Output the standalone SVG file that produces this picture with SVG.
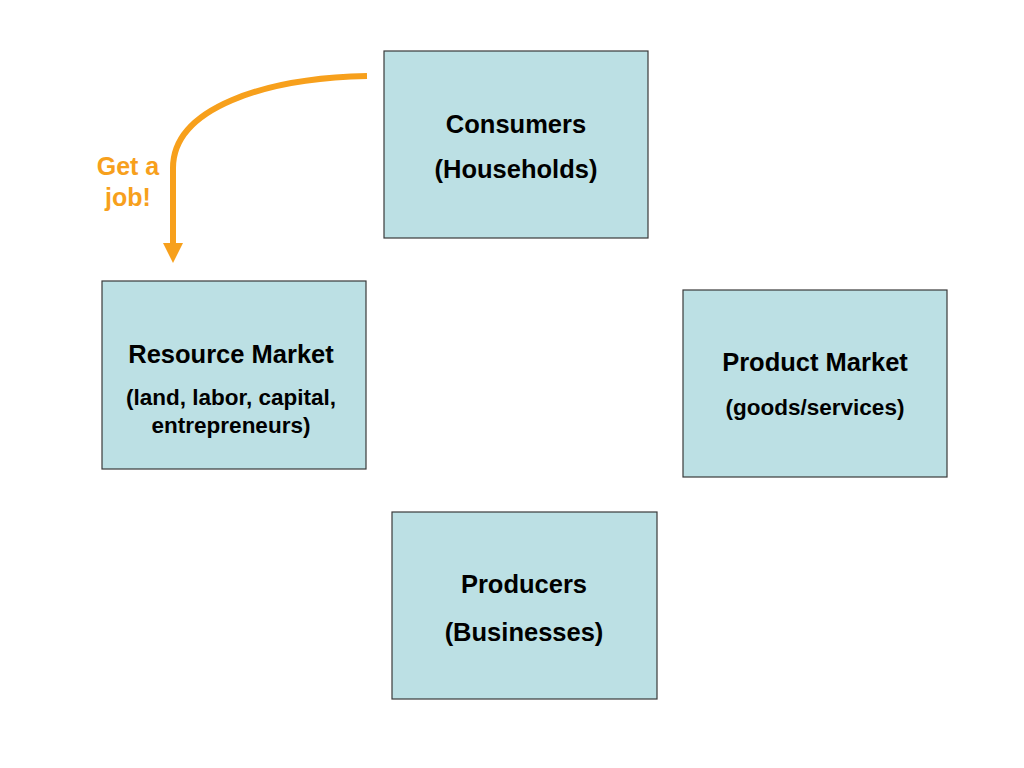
<svg xmlns="http://www.w3.org/2000/svg" width="1024" height="768" viewBox="0 0 1024 768">
<defs>
<style>
.box{fill:#BCE0E4;stroke:#3a3a3a;stroke-width:1.2}
.t{font-family:"Liberation Sans",Arial,sans-serif;font-weight:bold;fill:#000;text-anchor:middle}
.big{font-size:25.5px}
.sm{font-size:22.5px}
.or{font-family:"Liberation Sans",Arial,sans-serif;font-weight:bold;fill:#F7A01C;font-size:25px;text-anchor:middle}
</style>
<marker id="ah" markerUnits="userSpaceOnUse" markerWidth="22" markerHeight="20" refX="2" refY="10" orient="auto">
<path d="M0,0 L20,10 L0,20 Z" fill="#F7A01C"/>
</marker>
</defs>
<rect width="1024" height="768" fill="#fff"/>
<g id="connectors">
<path d="M367,76 C 265,78 173,108 173,168 L173,245" fill="none" stroke="#F7A01C" stroke-width="6" marker-end="url(#ah)"/>
<text class="or" x="128" y="175">Get a</text>
<text class="or" x="128" y="206">job!</text>
</g>
<g id="consumers">
<rect class="box" x="384" y="51" width="264" height="187"/>
<text class="t big" x="516" y="133">Consumers</text>
<text class="t big" x="516" y="178">(Households)</text>
</g>
<g id="resource-market">
<rect class="box" x="102" y="281" width="264" height="188"/>
<text class="t big" x="231" y="363">Resource Market</text>
<text class="t sm" x="231" y="405">(land, labor, capital,</text>
<text class="t sm" x="231" y="433">entrepreneurs)</text>
</g>
<g id="product-market">
<rect class="box" x="683" y="290" width="264" height="187"/>
<text class="t big" x="815" y="371">Product Market</text>
<text class="t sm" x="815" y="415">(goods/services)</text>
</g>
<g id="producers">
<rect class="box" x="392" y="512" width="265" height="187"/>
<text class="t big" x="524" y="593">Producers</text>
<text class="t big" x="524" y="641">(Businesses)</text>
</g>
</svg>
